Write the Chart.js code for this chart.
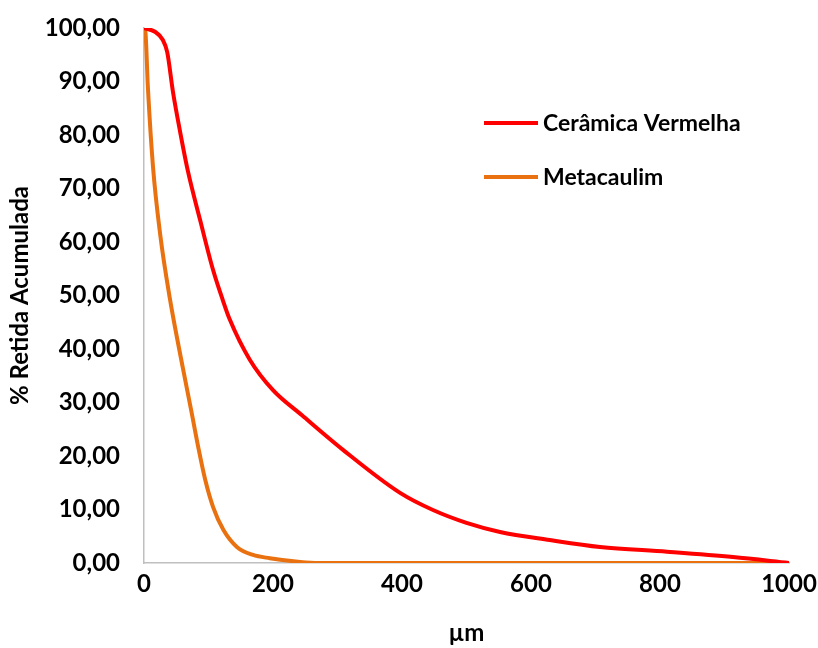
<!DOCTYPE html>
<html>
<head>
<meta charset="utf-8">
<script src="https://cdn.jsdelivr.net/npm/chart.js@4.4.1/dist/chart.umd.min.js"></script>
<style>
  html, body { margin: 0; padding: 0; background: #fff; }
  #wrap { width: 818px; height: 648px; }
</style>
</head>
<body>
<div id="wrap"><canvas id="granulometria" width="818" height="648"></canvas></div>
<script>
// curvas granulométricas (% retida acumulada x abertura em µm)
const ceramicaX = [0, 17, 29, 36, 45, 56, 68, 87, 107, 122, 133, 164, 200, 245, 309, 397, 448, 500, 552, 629, 707, 811, 913, 1000];
const ceramicaY = [100, 99.3, 97.8, 95.5, 88, 80.6, 73.3, 64.1, 54.8, 49.2, 45.5, 38, 32.3, 27.6, 21.1, 13.1, 9.9, 7.5, 5.8, 4.3, 3.0, 2.1, 1.1, 0];

const metacaulimX = [0, 2, 6, 14, 25, 40, 60, 74, 84, 95, 107, 123, 144, 169, 195, 242, 270, 400, 600, 800, 1000];
const metacaulimY = [100, 99.5, 89, 74, 61.5, 49.5, 36.6, 28, 21.7, 15.5, 10.5, 6.2, 3, 1.5, 0.9, 0.2, 0, 0, 0, 0, 0];

const series = ['Cerâmica Vermelha', 'Metacaulim'];
const cores = ['#FF0000', '#E97110'];
const xTicks = [0, 200, 400, 600, 800, 1000];

const fonte = 'Lato, "Open Sans", sans-serif';

function pontos(xs, ys) {
  return xs.map((x, i) => ({ x: x, y: ys[i] }));
}

// legenda desenhada dentro da área do gráfico
const legendaInterna = {
  id: 'legendaInterna',
  afterDraw(chart) {
    const c = chart.ctx;
    c.save();
    c.font = 'bold 23px ' + fonte;
    c.textBaseline = 'middle';
    chart.data.datasets.forEach((ds, i) => {
      const y = 123 + i * 54;
      c.strokeStyle = ds.borderColor;
      c.lineWidth = 4;
      c.beginPath();
      c.moveTo(484, y);
      c.lineTo(538, y);
      c.stroke();
      c.fillStyle = '#000';
      c.fillText(ds.label, 543, y + 1);
    });
    c.restore();
  }
};

const ctx = document.getElementById('granulometria').getContext('2d');

new Chart(ctx, {
  type: 'line',
  data: {
    datasets: [
      {
        label: series[0],
        data: pontos(ceramicaX, ceramicaY),
        borderColor: cores[0],
        borderWidth: 4,
        pointRadius: 0,
        cubicInterpolationMode: 'monotone'
      },
      {
        label: series[1],
        data: pontos(metacaulimX, metacaulimY),
        borderColor: cores[1],
        borderWidth: 4,
        pointRadius: 0,
        cubicInterpolationMode: 'monotone'
      }
    ]
  },
  options: {
    responsive: false,
    animation: false,
    layout: { padding: { top: 28, right: 29, bottom: 0, left: 0 } },
    plugins: {
      legend: { display: false },
      tooltip: { enabled: false }
    },
    scales: {
      x: {
        type: 'linear',
        min: 0,
        max: 1000,
        afterBuildTicks: (s) => { s.ticks = xTicks.map(v => ({ value: v })); },
        afterFit: (s) => {
          s.height = 85;
          s.paddingLeft = 0;
          s.paddingRight = 0;
        },
        grid: { drawOnChartArea: false, drawTicks: false },
        border: { color: '#BFBFBF', width: 1.5 },
        ticks: {
          color: '#000',
          padding: 7,
          font: { family: fonte, size: 24, weight: 'bold' },
          callback: (v) => String(v)
        },
        title: {
          display: true,
          text: 'µm',
          color: '#000',
          padding: { top: 0, bottom: 0 },
          font: { family: fonte, size: 24, weight: 'bold' }
        }
      },
      y: {
        min: 0,
        max: 100,
        afterFit: (s) => {
          s.width = 144;
          s.paddingTop = 0;
          s.paddingBottom = 0;
        },
        grid: { drawOnChartArea: false, drawTicks: false },
        border: { color: '#BFBFBF', width: 1.5 },
        ticks: {
          stepSize: 10,
          color: '#000',
          padding: 24,
          font: { family: fonte, size: 24, weight: 'bold' },
          callback: (v) => v.toFixed(2).replace('.', ',')
        },
        title: {
          display: true,
          text: '% Retida Acumulada',
          color: '#000',
          padding: { top: 6, bottom: 0 },
          font: { family: fonte, size: 24, weight: 'bold' }
        }
      }
    }
  },
  plugins: [legendaInterna]
});
</script>
</body>
</html>
